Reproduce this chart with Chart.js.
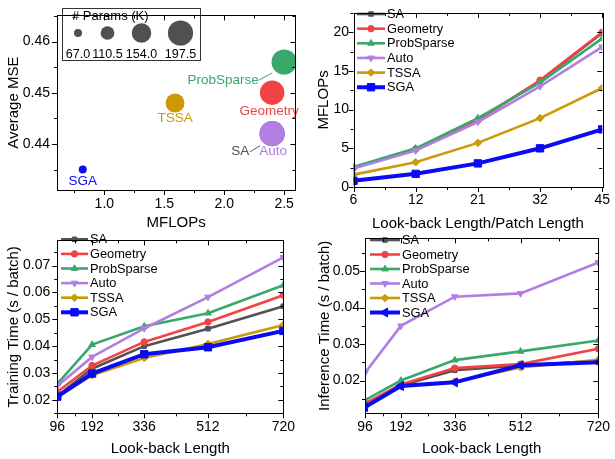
<!DOCTYPE html>
<html>
<head>
<meta charset="utf-8">
<script src="https://cdn.jsdelivr.net/npm/chart.js@4.4.1/dist/chart.umd.min.js"></script>
<style>
  body { margin: 0; background: #fff; width: 615px; height: 459px; overflow: hidden; position: relative; }
  .panel { position: absolute; }
</style>
</head>
<body>
<div class="panel" style="left:0;top:0;width:308px;height:232px"><canvas id="cA"></canvas></div>
<div class="panel" style="left:305px;top:0;width:310px;height:233px"><canvas id="cB"></canvas></div>
<div class="panel" style="left:0;top:225px;width:300px;height:233px"><canvas id="cC"></canvas></div>
<div class="panel" style="left:305px;top:225px;width:310px;height:233px"><canvas id="cD"></canvas></div>
<script>
  // ── Data ──────────────────────────────────────────────────────────────────
  const methods = ["SA", "Geometry", "ProbSparse", "Auto", "TSSA", "SGA"];

  // (a) MSE vs MFLOPs, bubble size = # params (K)
  const bubbleMflops = [2.40, 2.40, 2.50, 2.40, 1.59, 0.82];
  const bubbleMse    = [0.442, 0.450, 0.456, 0.442, 0.448, 0.435];
  const bubbleParams = [197.5, 192.0, 197.5, 197.5, 150.0, 67.0];
  const paramLegend  = [67.0, 110.5, 154.0, 197.5];
  const mseXTicks = [1.0, 1.5, 2.0, 2.5];
  const mseYTicks = [0.44, 0.45, 0.46];

  // (b) MFLOPs vs look-back/patch length
  const patchCats = ["6", "12", "21", "32", "45"];
  const mflopSA         = [2.5, 4.9, 8.7, 13.7, 19.9];
  const mflopGeometry   = [2.5, 4.9, 8.6, 13.8, 20.0];
  const mflopProbSparse = [2.6, 5.0, 8.9, 13.5, 19.2];
  const mflopAuto       = [2.4, 4.7, 8.4, 13.0, 18.1];
  const mflopTSSA       = [1.6, 3.2, 5.7, 8.9, 12.8];
  const mflopSGA        = [0.8, 1.7, 3.05, 5.0, 7.45];
  const mflopYTicks = [0, 5, 10, 15, 20];

  // (c) training time, (d) inference time vs look-back length
  const lookback = [96, 192, 336, 512, 720];
  const trainSA         = [0.0215, 0.0316, 0.0400, 0.0465, 0.0549];
  const trainGeometry   = [0.0230, 0.0328, 0.0416, 0.0490, 0.0590];
  const trainProbSparse = [0.0260, 0.0406, 0.0474, 0.0523, 0.0627];
  const trainAuto       = [0.0252, 0.0360, 0.0466, 0.0583, 0.0731];
  const trainTSSA       = [0.0210, 0.0292, 0.0356, 0.0408, 0.0479];
  const trainSGA        = [0.0212, 0.0298, 0.0370, 0.0396, 0.0457];
  const trainYTicks = [0.02, 0.03, 0.04, 0.05, 0.06, 0.07];

  const infSA         = [0.0132, 0.0186, 0.0228, 0.0241, 0.0254];
  const infGeometry   = [0.0137, 0.0189, 0.0234, 0.0245, 0.0287];
  const infProbSparse = [0.0146, 0.0200, 0.0256, 0.0280, 0.0310];
  const infAuto       = [0.0221, 0.0350, 0.0430, 0.0439, 0.0524];
  const infTSSA       = [0.0128, 0.0184, 0.0197, 0.0236, 0.0257];
  const infSGA        = [0.0127, 0.0185, 0.0195, 0.0242, 0.0250];
  const infYTicks = [0.02, 0.03, 0.04, 0.05];

  // ── Styles ────────────────────────────────────────────────────────────────
  const colors = {
    SA: "#525252", Geometry: "#f04444", ProbSparse: "#3aa86b",
    Auto: "#b27ee2", TSSA: "#cc9a06", SGA: "#0a0af5"
  };
  const marks = {
    SA:         { style: "rect",     r: 3.2, w: 2.6 },
    Geometry:   { style: "circle",   r: 3.2, w: 2.6 },
    ProbSparse: { style: "triangle", r: 3.8, w: 2.6 },
    Auto:       { style: "triangle", r: 3.8, w: 2.6, rot: 180 },
    TSSA:       { style: "rectRot",  r: 3.8, w: 2.6 },
    SGA:        { style: "rect",     r: 5.2, w: 4 }
  };
  const FONT = '"Liberation Sans", Arial, sans-serif';
  Chart.defaults.font.family = FONT;
  Chart.defaults.font.size = 14;
  Chart.defaults.color = "#000";

  // bubble radius in px from params (K)
  const radiusFor = p => 4 + (p - 67) * 8.6 / 130.5;

  // ── Plugins ───────────────────────────────────────────────────────────────
  // Box frame with outward ticks on left/bottom, inward ticks on top/right,
  // plus minor ticks halfway between the major ones.
  const frameTicks = {
    id: "frameTicks",
    afterDraw(chart) {
      const { ctx, chartArea: a, scales: { x, y } } = chart;
      const px = v => Math.round(v) + 0.5;
      ctx.save();
      ctx.strokeStyle = "#000";
      ctx.lineWidth = 1;
      ctx.strokeRect(px(a.left), px(a.top), Math.round(a.right - a.left), Math.round(a.bottom - a.top));
      const spots = (s, lo, hi) => {
        const major = s.ticks.map((t, i) => s.getPixelForTick(i));
        const minor = [];
        for (let i = 0; i < major.length - 1; i++) minor.push((major[i] + major[i + 1]) / 2);
        if (major.length > 1) {
          const st0 = major[1] - major[0], n = major.length;
          const st1 = major[n - 1] - major[n - 2];
          minor.push(major[0] - st0 / 2, major[n - 1] + st1 / 2);
        }
        const inR = v => v >= Math.min(lo, hi) - 0.5 && v <= Math.max(lo, hi) + 0.5;
        return { major: major.filter(inR), minor: minor.filter(inR) };
      };
      ctx.beginPath();
      const xs = spots(x, a.left, a.right);
      [[xs.major, 5], [xs.minor, 3]].forEach(([arr, len]) => arr.forEach(v => {
        ctx.moveTo(px(v), a.bottom); ctx.lineTo(px(v), a.bottom + len);
        ctx.moveTo(px(v), a.top); ctx.lineTo(px(v), a.top + len);
      }));
      const ys = spots(y, a.top, a.bottom);
      [[ys.major, 5], [ys.minor, 3]].forEach(([arr, len]) => arr.forEach(v => {
        ctx.moveTo(a.left, px(v)); ctx.lineTo(a.left - len, px(v));
        ctx.moveTo(a.right, px(v)); ctx.lineTo(a.right - len, px(v));
      }));
      ctx.stroke();
      ctx.restore();
    }
  };

  // Line + marker legend drawn inside the plot, top-left
  const lineLegend = {
    id: "lineLegend",
    afterDraw(chart, args, o) {
      if (!o || o.x == null) return;
      const ctx = chart.ctx;
      ctx.save();
      ctx.font = "12.8px " + FONT;
      ctx.textBaseline = "middle";
      chart.data.datasets.forEach((ds, i) => {
        const yy = o.y + i * o.gap;
        ctx.strokeStyle = ds.borderColor;
        ctx.fillStyle = ds.borderColor;
        ctx.lineWidth = ds.borderWidth;
        ctx.beginPath();
        ctx.moveTo(o.x, yy); ctx.lineTo(o.x + o.len, yy);
        ctx.stroke();
        ctx.lineWidth = 1;
        Chart.helpers.drawPoint(ctx, {
          pointStyle: ds.pointStyle, radius: ds.pointRadius,
          rotation: ds.pointRotation || 0, borderWidth: 1
        }, o.x + o.len / 2, yy);
        ctx.fillStyle = "#000";
        ctx.fillText(ds.label, o.x + o.len + 2, yy + 0.5);
      });
      ctx.restore();
    }
  };

  // Bubble labels (with leader lines) and the "# Params (K)" inset
  const bubbleNotes = {
    id: "bubbleNotes",
    afterDraw(chart, args, o) {
      const { ctx, scales: { x, y } } = chart;
      ctx.save();
      ctx.font = "13.5px " + FONT;
      ctx.textAlign = "center";
      ctx.textBaseline = "middle";
      chart.data.datasets.forEach(ds => {
        const n = o.labels[ds.label];
        const cx = x.getPixelForValue(ds.data[0].x), cy = y.getPixelForValue(ds.data[0].y);
        ctx.fillStyle = ds.backgroundColor;
        ctx.fillText(ds.label, cx + n.dx, cy + n.dy);
        if (n.line) {
          ctx.strokeStyle = ds.backgroundColor;
          ctx.lineWidth = 1;
          ctx.beginPath();
          ctx.moveTo(cx + n.line[0], cy + n.line[1]);
          ctx.lineTo(cx + n.line[2], cy + n.line[3]);
          ctx.stroke();
        }
      });
      // inset legend
      const b = o.inset;
      ctx.strokeStyle = "#333";
      ctx.lineWidth = 1;
      ctx.strokeRect(b.x + 0.5, b.y + 0.5, b.w, b.h);
      ctx.fillStyle = "#000";
      ctx.textAlign = "left";
      ctx.font = "13px " + FONT;
      ctx.fillText("# Params (K)", b.x + 10, b.y + 8);
      ctx.textAlign = "center";
      ctx.font = "12.5px " + FONT;
      paramLegend.forEach((p, i) => {
        const cx = b.cols[i];
        ctx.fillStyle = "#505050";
        ctx.beginPath();
        ctx.arc(cx, b.y + 25, radiusFor(p), 0, Math.PI * 2);
        ctx.fill();
        ctx.fillStyle = "#000";
        ctx.fillText(p.toFixed(1), cx, b.y + 47);
      });
      ctx.restore();
    }
  };

  // ── Helpers ───────────────────────────────────────────────────────────────
  const fixedTicks = arr => s => { s.ticks = arr.map(v => ({ value: v })); };

  function axisY(min, max, ticks, width, titleText, titlePad, labelPad, digits) {
    return {
      type: "linear", min, max,
      afterBuildTicks: fixedTicks(ticks),
      afterFit: s => { s.width = width; },
      grid: { display: false, drawTicks: false },
      border: { display: false },
      ticks: { padding: labelPad, callback: v => digits == null ? v : v.toFixed(digits) },
      title: { display: true, text: titleText, font: { size: 15 }, padding: { top: titlePad, bottom: titlePad } }
    };
  }
  function axisX(base, height, titleText) {
    return Object.assign({
      afterFit: s => { s.height = height; },
      grid: { display: false, drawTicks: false },
      border: { display: false },
      title: { display: true, text: titleText, font: { size: 15 }, padding: { top: 0, bottom: 0 } }
    }, base);
  }
  function lineSets(series) {
    return methods.map((m, i) => {
      const k = marks[m];
      return {
        label: m,
        data: series[i],
        borderColor: colors[m],
        backgroundColor: colors[m],
        borderWidth: k.w,
        pointStyle: k.style,
        pointRadius: k.r,
        pointRotation: k.rot || 0,
        pointBorderWidth: 1,
        order: methods.length - 1 - i,
        tension: 0,
        clip: 0
      };
    });
  }
  const baseOpts = {
    responsive: true, maintainAspectRatio: false, animation: false,
    devicePixelRatio: 1, events: []
  };

  // ── (a) bubble chart ──────────────────────────────────────────────────────
  new Chart(document.getElementById("cA"), {
    type: "bubble",
    data: {
      datasets: methods.map((m, i) => ({
        label: m,
        data: [{ x: bubbleMflops[i], y: bubbleMse[i], r: radiusFor(bubbleParams[i]) }],
        backgroundColor: colors[m],
        borderWidth: 0,
        clip: 0,
        order: m === "Auto" ? 0 : (m === "SA" ? 1 : 2)
      }))
    },
    options: Object.assign({}, baseOpts, {
      layout: { padding: { left: 0, right: 4, top: 4, bottom: 0 } },
      plugins: {
        legend: { display: false }, tooltip: { enabled: false },
        bubbleNotes: {
          labels: {
            SA:         { dx: -32, dy: 18, line: [-22, 18, -12, 12] },
            Geometry:   { dx: -3, dy: 19 },
            ProbSparse: { dx: -61, dy: 18, line: [-25, 18, -12, 11] },
            Auto:       { dx: 1, dy: 18 },
            TSSA:       { dx: 0, dy: 15 },
            SGA:        { dx: 0, dy: 12 }
          },
          inset: { x: 62, y: 8, w: 138, h: 52, cols: [78, 107.5, 141.5, 180.5] }
        }
      },
      scales: {
        x: axisX({ type: "linear", min: 0.605, max: 2.594, afterBuildTicks: fixedTicks(mseXTicks),
                   ticks: { padding: 6, callback: v => v.toFixed(1) } }, 42, "MFLOPs"),
        y: axisY(0.431, 0.4651, mseYTicks, 57, "Average MSE", 5, 7, 2)
      }
    }),
    plugins: [bubbleNotes, frameTicks]
  });

  // ── (b) MFLOPs ────────────────────────────────────────────────────────────
  new Chart(document.getElementById("cB"), {
    type: "line",
    data: {
      labels: patchCats,
      datasets: lineSets([mflopSA, mflopGeometry, mflopProbSparse, mflopAuto, mflopTSSA, mflopSGA])
    },
    options: Object.assign({}, baseOpts, {
      layout: { padding: { left: 0, right: 7, top: 3.5, bottom: 0 } },
      plugins: {
        legend: { display: false }, tooltip: { enabled: false },
        lineLegend: { x: 52, y: 14, gap: 14.65, len: 28 }
      },
      scales: {
        x: axisX({ type: "category", offset: false, ticks: { padding: 5, autoSkip: false, maxRotation: 0 } }, 46,
                 "Look-back Length/Patch Length"),
        y: axisY(0, 22.5, mflopYTicks, 48.5, "MFLOPs", 10, 4.5)
      }
    }),
    plugins: [lineLegend, frameTicks]
  });

  // ── (c) training time ─────────────────────────────────────────────────────
  const lbData = arr => arr.map((v, i) => ({ x: lookback[i], y: v }));
  new Chart(document.getElementById("cC"), {
    type: "line",
    data: {
      datasets: lineSets([trainSA, trainGeometry, trainProbSparse, trainAuto, trainTSSA, trainSGA].map(lbData))
    },
    options: Object.assign({}, baseOpts, {
      layout: { padding: { left: 0, right: 7.3, top: 4, bottom: 0 } },
      plugins: {
        legend: { display: false }, tooltip: { enabled: false },
        lineLegend: { x: 61, y: 14.3, gap: 14.6, len: 27 }
      },
      scales: {
        x: axisX({ type: "linear", min: 96, max: 720, afterBuildTicks: fixedTicks(lookback),
                   ticks: { padding: 5, autoSkip: false, maxRotation: 0 } }, 44.7, "Look-back Length"),
        y: axisY(0.015, 0.0794, trainYTicks, 57.3, "Training Time (s / batch)", 5, 7, 2)
      }
    }),
    plugins: [lineLegend, frameTicks]
  });

  // ── (d) inference time ────────────────────────────────────────────────────
  const infSets = lineSets([infSA, infGeometry, infProbSparse, infAuto, infTSSA, infSGA].map(lbData));
  infSets[5].pointStyle = "triangle";
  infSets[5].pointRotation = 270;
  infSets[5].pointRadius = 5.2;
  new Chart(document.getElementById("cD"), {
    type: "line",
    data: { datasets: infSets },
    options: Object.assign({}, baseOpts, {
      layout: { padding: { left: 0, right: 11, top: 5, bottom: 0 } },
      plugins: {
        legend: { display: false }, tooltip: { enabled: false },
        lineLegend: { x: 65, y: 15, gap: 14.5, len: 30 }
      },
      scales: {
        x: axisX({ type: "linear", min: 96, max: 720, afterBuildTicks: fixedTicks(lookback),
                   ticks: { padding: 5, autoSkip: false, maxRotation: 0 } }, 44.7, "Look-back Length"),
        y: axisY(0.011, 0.059, infYTicks, 60, "Inference Time (s / batch)", 10.5, 5, 2)
      }
    }),
    plugins: [lineLegend, frameTicks]
  });
</script>
</body>
</html>
